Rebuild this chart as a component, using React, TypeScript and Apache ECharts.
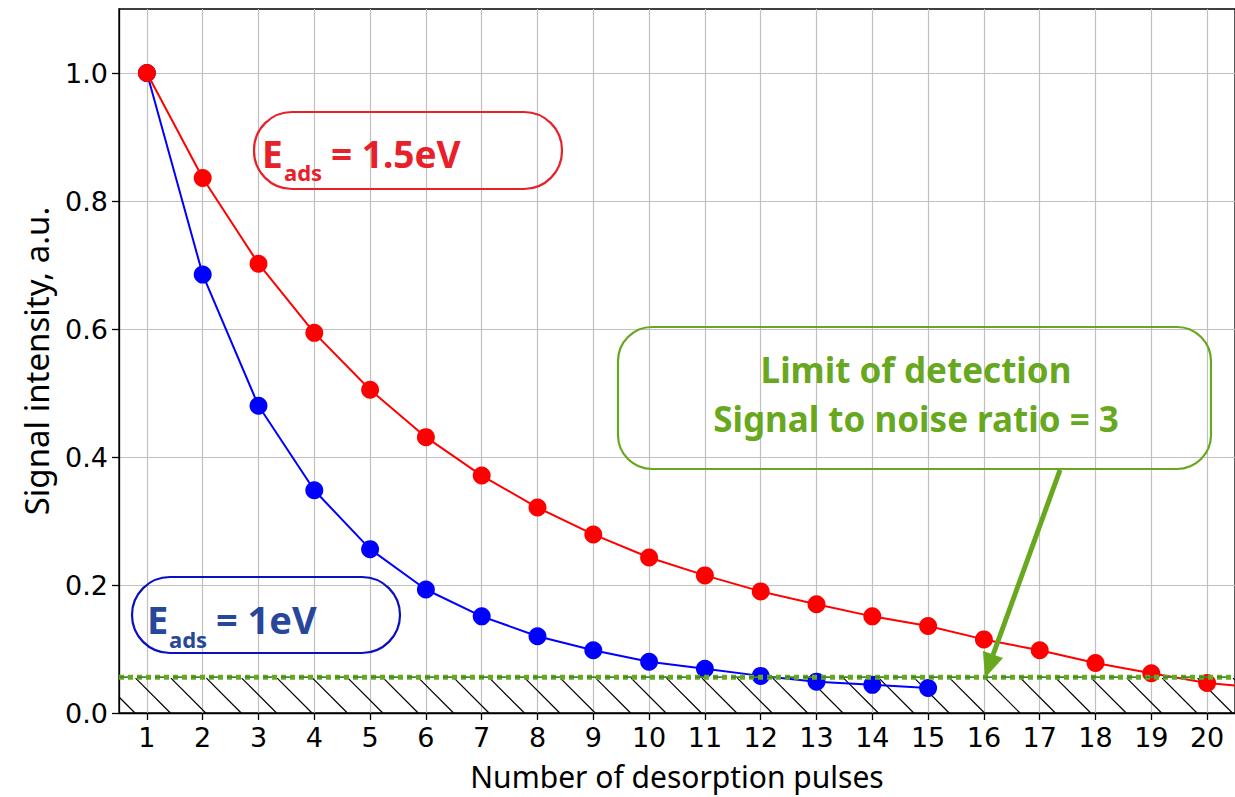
import React, { useEffect, useRef } from "react";
import * as echarts from "echarts";

// ---- data ----
const pulses = [1, 2, 3, 4, 5, 6, 7, 8, 9, 10, 11, 12, 13, 14, 15, 16, 17, 18, 19, 20];
const yTicks = [0, 0.2, 0.4, 0.6, 0.8, 1.0];
const xRange = [0.5, 20.5];
const yRange = [0, 1.1];

const redPulses = [1, 2, 3, 4, 5, 6, 7, 8, 9, 10, 11, 12, 13, 14, 15, 16, 17, 18, 19, 20, 21];
const redValues = [1.0, 0.836, 0.702, 0.594, 0.505, 0.431, 0.371, 0.321, 0.279, 0.243, 0.215, 0.19, 0.17, 0.151, 0.136, 0.115, 0.098, 0.078, 0.062, 0.047, 0.039];

const bluePulses = [1, 2, 3, 4, 5, 6, 7, 8, 9, 10, 11, 12, 13, 14, 15];
const blueValues = [1.0, 0.685, 0.48, 0.348, 0.256, 0.193, 0.151, 0.12, 0.098, 0.08, 0.069, 0.058, 0.049, 0.044, 0.039];

const limitOfDetection = 0.056;

const xTitle = "Number of desorption pulses";
const yTitle = "Signal intensity, a.u.";
const redLabel = { main: "E", sub: "ads", rest: "= 1.5eV" };
const blueLabel = { main: "E", sub: "ads", rest: "= 1eV" };
const lodLines = ["Limit of detection", "Signal to noise ratio = 3"];

const RED = "#ff0000";
const BLUE = "#0000ff";
const RED_TXT = "#e8202a";
const BLUE_BOX = "#0a10c0";
const BLUE_TXT = "#27479a";
const GREEN = "#67a81e";
const GREEN_DARK = "#3d8a2a";

export default function App() {
  const ref = useRef<HTMLDivElement>(null);

  useEffect(() => {
    if (!ref.current) return;
    const chart = echarts.init(ref.current, null, { renderer: "svg" });

    const titleFont = "'Noto Sans', sans-serif";
    const tickFont = "'DejaVu Sans', sans-serif";
    const boldFont = "'Noto Sans', sans-serif";

    const option: any = {
      animation: false,
      backgroundColor: "#ffffff",
      grid: {
        left: 119,
        top: 9,
        width: 1117,
        bottom: 84,
        show: true,
        borderColor: "#000",
        borderWidth: 1.3,
        backgroundColor: "transparent",
      },
      xAxis: {
        type: "value",
        min: xRange[0],
        max: xRange[1],
        name: xTitle,
        nameLocation: "middle",
        nameGap: 48,
        nameTextStyle: { fontFamily: titleFont, fontSize: 30, color: "#000" },
        axisLine: { show: true, onZero: false, lineStyle: { color: "#000", width: 1.3 } },
        axisTick: { show: true, customValues: pulses, length: 7, lineStyle: { color: "#000", width: 1.3 } },
        axisLabel: { customValues: pulses, fontFamily: tickFont, fontSize: 27, color: "#000", margin: 11 },
        splitLine: { show: true, lineStyle: { color: "#c0c0c0", width: 1.2 } },
      },
      yAxis: {
        type: "value",
        min: yRange[0],
        max: yRange[1],
        name: yTitle,
        nameLocation: "middle",
        nameGap: 66,
        nameRotate: 90,
        nameTextStyle: { fontFamily: titleFont, fontSize: 33, color: "#000" },
        axisLine: { show: true, onZero: false, lineStyle: { color: "#000", width: 1.3 } },
        axisTick: { show: true, customValues: yTicks, length: 7, lineStyle: { color: "#000", width: 1.3 } },
        axisLabel: {
          customValues: yTicks,
          fontFamily: tickFont,
          fontSize: 27,
          color: "#000",
          margin: 11,
          formatter: (v: number) => v.toFixed(1),
        },
        splitLine: { show: true, lineStyle: { color: "#c0c0c0", width: 1.2 } },
      },
      series: [
        {
          type: "custom",
          name: "hatch",
          z: 1,
          silent: true,
          data: [[xRange[0], limitOfDetection]],
          encode: { x: 0, y: 1 },
          renderItem: (params: any, api: any) => {
            const cs = params.coordSys;
            const top = api.coord([xRange[0], api.value(1)])[1] + 1;
            const bottom = api.coord([xRange[0], yRange[0]])[1];
            const left = cs.x;
            const right = cs.x + cs.width;
            const h = bottom - top;
            const step = 35.4;
            const children: any[] = [];
            for (let bx = left + 16; bx - h < right; bx += step) {
              let x1 = bx - h;
              let y1 = top;
              let x2 = bx;
              let y2 = bottom;
              if (x1 < left) {
                y1 = top + (left - x1);
                x1 = left;
              }
              if (x2 > right) {
                y2 = bottom - (x2 - right);
                x2 = right;
              }
              children.push({
                type: "line",
                shape: { x1, y1, x2, y2 },
                style: { stroke: "#000", lineWidth: 1.2 },
              });
            }
            return { type: "group", children };
          },
        },
        {
          type: "line",
          name: "E_ads = 1eV",
          z: 3,
          data: bluePulses.map((p, i) => [p, blueValues[i]]),
          symbol: "circle",
          symbolSize: 18,
          showSymbol: true,
          lineStyle: { color: BLUE, width: 2 },
          itemStyle: { color: BLUE },
          clip: true,
        },
        {
          type: "line",
          name: "E_ads = 1.5eV",
          z: 4,
          data: redPulses.map((p, i) => [p, redValues[i]]),
          symbol: "circle",
          symbolSize: 18,
          showSymbol: true,
          lineStyle: { color: RED, width: 2 },
          itemStyle: { color: RED },
          clip: true,
        },
        {
          type: "line",
          name: "LOD",
          z: 5,
          data: xRange.map((x) => [x, limitOfDetection]),
          showSymbol: false,
          symbol: "none",
          lineStyle: { color: GREEN, width: 5, type: [5, 4] },
          silent: true,
        },
        {
          type: "line",
          name: "LOD2",
          z: 6,
          data: xRange.map((x) => [x, limitOfDetection]),
          showSymbol: false,
          symbol: "none",
          lineStyle: { color: GREEN_DARK, width: 1.6, type: [9, 9] },
          silent: true,
        },
      ],
      graphic: [
        // red annotation
        {
          type: "rect",
          z: 100,
          shape: { x: 254, y: 112, width: 308, height: 77, r: 38 },
          style: { fill: "none", stroke: RED_TXT, lineWidth: 2.2 },
        },
        {
          type: "text",
          z: 101,
          x: 262,
          y: 153,
          style: { text: redLabel.main, font: `bold 37px ${boldFont}`, fill: RED_TXT, verticalAlign: "middle" },
        },
        {
          type: "text",
          z: 101,
          x: 284,
          y: 172,
          style: { text: redLabel.sub, font: `bold 22px ${boldFont}`, fill: RED_TXT, verticalAlign: "middle" },
        },
        {
          type: "text",
          z: 101,
          x: 331,
          y: 153,
          style: { text: redLabel.rest, font: `bold 37px ${boldFont}`, fill: RED_TXT, verticalAlign: "middle" },
        },
        // blue annotation
        {
          type: "rect",
          z: 100,
          shape: { x: 132, y: 577, width: 268, height: 76, r: 38 },
          style: { fill: "none", stroke: BLUE_BOX, lineWidth: 2.2 },
        },
        {
          type: "text",
          z: 101,
          x: 147,
          y: 619,
          style: { text: blueLabel.main, font: `bold 38px ${boldFont}`, fill: BLUE_TXT, verticalAlign: "middle" },
        },
        {
          type: "text",
          z: 101,
          x: 169,
          y: 639,
          style: { text: blueLabel.sub, font: `bold 22px ${boldFont}`, fill: BLUE_TXT, verticalAlign: "middle" },
        },
        {
          type: "text",
          z: 101,
          x: 216,
          y: 619,
          style: { text: blueLabel.rest, font: `bold 38px ${boldFont}`, fill: BLUE_TXT, verticalAlign: "middle" },
        },
        // green annotation
        {
          type: "rect",
          z: 100,
          shape: { x: 618, y: 327, width: 593, height: 142, r: 34 },
          style: { fill: "none", stroke: GREEN, lineWidth: 2.2 },
        },
        {
          type: "text",
          z: 101,
          x: 916,
          y: 369,
          style: { text: lodLines[0], font: `bold 35px ${boldFont}`, fill: GREEN, align: "center", verticalAlign: "middle" },
        },
        {
          type: "text",
          z: 101,
          x: 916,
          y: 418,
          style: { text: lodLines[1], font: `bold 35px ${boldFont}`, fill: GREEN, align: "center", verticalAlign: "middle" },
        },
        // arrow
        {
          type: "line",
          z: 100,
          shape: { x1: 1060, y1: 470, x2: 993, y2: 655 },
          style: { stroke: GREEN, lineWidth: 5 },
        },
        {
          type: "polygon",
          z: 100,
          shape: { points: [[985, 678], [1003, 658], [983, 651]] },
          style: { fill: GREEN },
        },
      ],
    };

    chart.setOption(option);
    return () => chart.dispose();
  }, []);

  return (
    <div
      ref={ref}
      style={{ position: "absolute", left: 0, top: 0, width: 1235, height: 797 }}
    />
  );
}
